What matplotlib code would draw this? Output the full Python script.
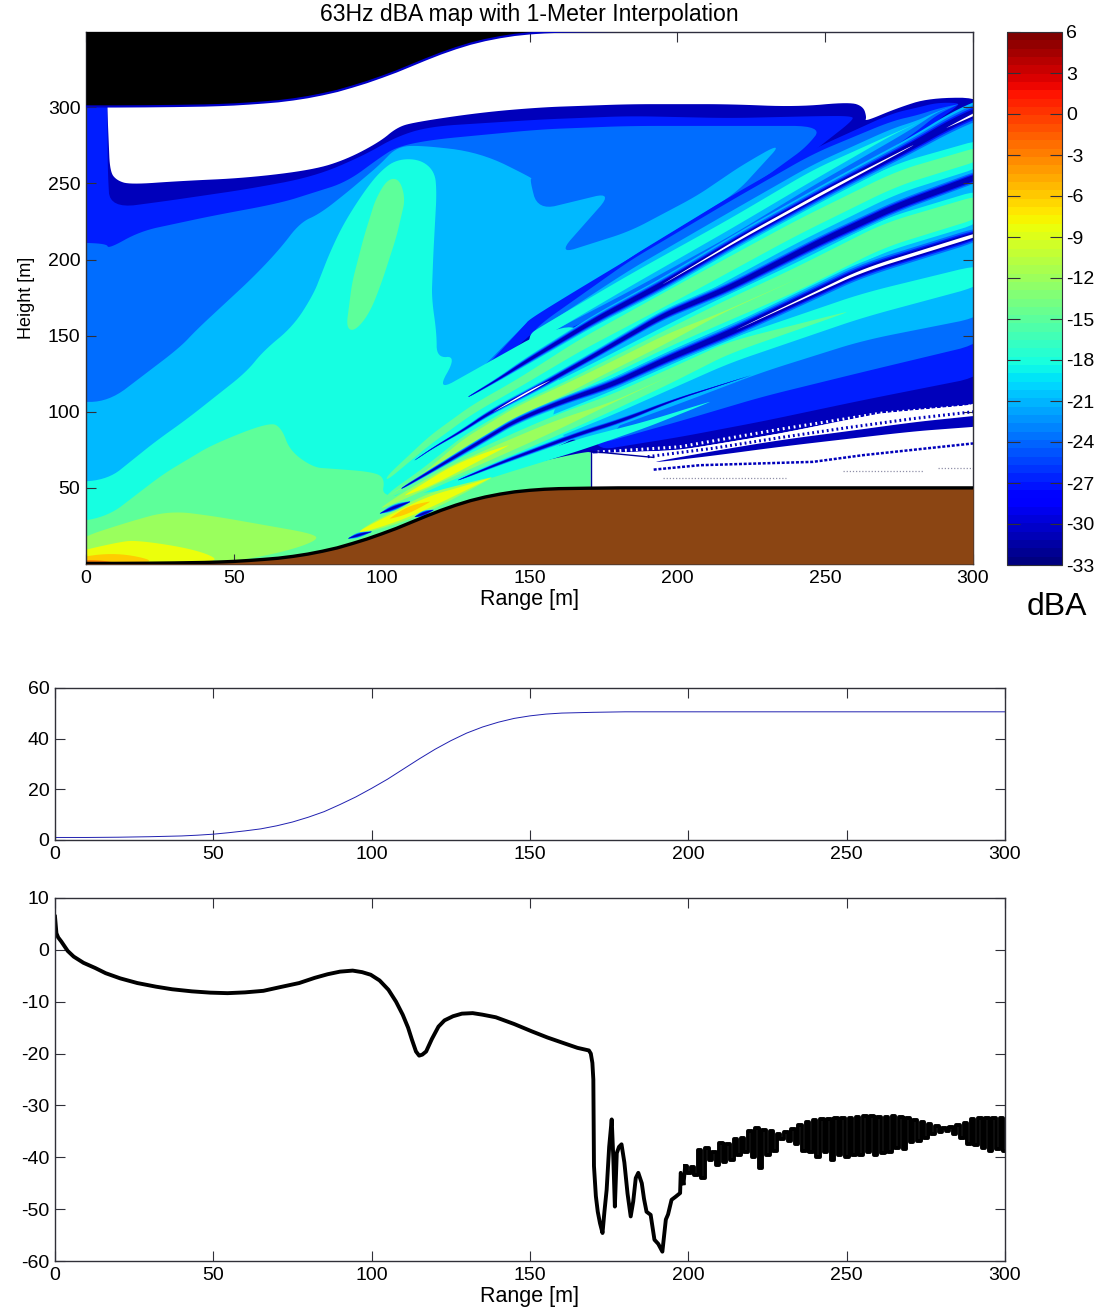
import numpy as np
import matplotlib
matplotlib.use("Agg")
import matplotlib.pyplot as plt
from matplotlib.colors import Normalize
from matplotlib.cm import ScalarMappable

plt.rcParams['font.family'] = ['Liberation Sans', 'DejaVu Sans']
plt.rcParams['axes.unicode_minus'] = False

# terrain profile, metres
terrain_x = [0, 10, 20, 30, 40, 45, 50, 55, 60, 65, 70, 75, 80, 85, 90, 95, 100, 105, 110, 115, 120, 125, 130,
             135, 140, 145, 150, 155, 160, 170, 180, 190, 300]
terrain_y = [1, 1, 1.1, 1.3, 1.6, 1.9, 2.3, 2.9, 3.6, 4.4, 5.6, 7.1, 9, 11.2, 14, 17, 20.4, 24, 28, 32, 35.8, 39.2,
             42.2, 44.6, 46.5, 48, 49, 49.7, 50.1, 50.4, 50.6, 50.6, 50.6]

# transmission loss along the ground, dBA
loss_x = [0, 0.45, 1, 2, 4, 5.9, 9, 12.7, 16, 20.6, 26, 31.9, 37, 43.2, 49, 54.5, 60, 65.8, 71, 77.1, 82, 86.1, 90,
          94, 97, 99.7, 102.5, 105.3, 107.7, 109.8, 111.5, 112.7, 114, 115, 116, 117.2, 119, 121.1, 123, 125.7,
          128.5, 131.9, 135, 139.2, 145, 150.5, 155.5, 160.7, 165, 168.6, 169.2, 169.7, 170, 170.2, 170.8, 171.4,
          172.1, 172.9, 173.5, 174.2, 175, 175.8, 176.3, 176.8, 177.4, 178.1, 178.9, 179.8, 180.8, 181.8, 182.6,
          183.4, 184.2, 185.3, 186, 186.8, 188.1, 189.3, 190.5, 191.8, 192.9, 193.6, 194.7, 196, 197.4, 197.6, 198.5]
loss_y = [6.4, 3.2, 2.4, 1.6, -0.2, -1.3, -2.5, -3.5, -4.5, -5.5, -6.4, -7.1, -7.6, -8, -8.25, -8.35, -8.2, -7.9,
          -7.2, -6.4, -5.4, -4.7, -4.2, -4, -4.3, -4.8, -5.9, -7.7, -10, -12.5, -15, -17.3, -19.6, -20.4, -20.2,
          -19.6, -17.2, -14.8, -13.6, -12.8, -12.3, -12.2, -12.5, -13, -14.3, -15.7, -16.9, -18, -18.9, -19.4, -20,
          -21.8, -25, -41.7, -47.5, -50.5, -52.7, -54.6, -50.5, -46.3, -38, -32.7, -40, -49.5, -39.2, -38, -37.5,
          -41, -47, -51.4, -48.5, -44, -43, -45, -48, -50.5, -51.1, -55.9, -56.7, -58.2, -52, -51, -48.2, -47.6,
          -46.9, -43, -45]
# the fast ripple after 199 m, read tooth by tooth
ripple_y = [-41.7, -43, -41.9, -43.5, -38.5, -44,
            -38.2, -40.5, -39, -41.5, -37.2, -41, -37.5, -40.5,
            -36.5, -39.5, -36.2, -39, -35, -40, -34.3, -42, -34.8, -39.5, -35, -38.8,
            -35.5, -36.5, -35.2, -36.8, -34.5, -37.5, -33.8, -38.8, -33.2, -39, -32.8, -40,
            -32.6, -39, -32.6, -40.5, -32.5, -39.5, -32.4, -40, -32.4, -39.5, -32.2, -39.6, -32.1, -39, -32, -39.5,
            -32.2, -39.2, -32.2, -39, -32.1, -38.2, -32.2, -38.4, -32.5, -37, -32.8, -36.9, -33.2, -36.2,
            -33.5, -35.6, -34, -35.2, -34.4, -35, -34.2, -35.6, -33.7, -36.3, -33.4, -37.5, -32.7, -37.6,
            -32.5, -38.2, -32.5, -38.8, -32.4, -38.4, -32.4, -38.8]

# upper edge of the sound field, left to right
edge_top = [(7.2, 302), (7.2, 299.4), (8.1, 257.8), (10.4, 252), (14.9, 249.3), (31.8, 251.6), (54.3, 253.6),
            (76.9, 259), (88.2, 265.9), (99.4, 277.4), (105.1, 286.7), (110.7, 290.1), (133.3, 296.6),
            (153.6, 300), (183.9, 302.1), (217.7, 302.1), (240.3, 300.3), (258.4, 303.5), (262.9, 300.5),
            (264, 293.6), (263.4, 290.6), (274.2, 299.4), (285.4, 306.3), (300, 306.3)]
# lower edge of the sound field behind the step, right to left
edge_low = [(300, 105.4), (268.5, 98.9), (234.6, 85.7), (200.8, 74.8), (171.5, 72.6)]

zone_30 = [(0, 0), (0, 303)] + edge_top + edge_low + [(170.7, 45)]
zone_27 = [(0, 0), (0, 303), (7.2, 303), (7.2, 299.4), (7.4, 255.5), (8.1, 233.6), (26.2, 238.2), (54.3, 246.2),
           (76.9, 254.3), (93.8, 268.2), (105.1, 280.9), (116.3, 287.4), (153.6, 292), (183.9, 294.3),
           (217.7, 292.9), (249.3, 294.3), (258.4, 294.3), (260, 292.4), (240.3, 262.4), (213.2, 228.9),
           (189.5, 202.4), (163.5, 172.3), (150, 150), (115, 90), (100, 40), (80, 0)]
zone_24 = [(0, 0), (0, 211.2), (7, 210.5), (7.6, 207), (18.3, 218.6), (43.1, 228.9), (65.6, 237), (88.2, 250.9),
           (99.4, 267), (105.1, 274), (116.3, 278.6), (153.6, 285.5), (183.9, 287.8), (249.3, 287.8),
           (243.7, 274), (229, 253.2), (213.2, 234.7), (189.5, 209.3), (163.5, 179.3), (150, 163),
           (148.5, 157.3), (116.4, 90.4), (105, 50), (90, 15)]
zone_21 = [(0, 0), (0, 106.5), (7.6, 106.5), (31.8, 142.3), (37.4, 153.9), (56.6, 188.5), (65.6, 207), (72.4, 224.3),
           (79.1, 230.1), (88.2, 244), (93.8, 253.2), (99.4, 262.4), (105.1, 274), (113, 275.1), (133.3, 270.5),
           (151.3, 253.2), (150, 253.2), (152.8, 232.4), (178.2, 244.4), (159.6, 203.5), (183.9, 218.5),
           (206.4, 241.6), (222.2, 262.4), (235.8, 277.4), (220, 243.9), (195.1, 213.9), (163.5, 177),
           (150, 160.8), (148.5, 157.3), (115, 92), (105, 50), (90, 15)]
zone_18 = [(0, 0), (0, 53.4), (7.6, 55.7), (23.9, 81.1), (34, 95), (54.3, 126.2), (60, 140), (70.1, 156.2), (76.9, 177),
           (82.5, 204.7), (87, 223.2), (93.8, 244), (99.4, 257.8), (105.1, 265.9), (113, 265.9), (118, 257.8),
           (118.6, 243.9), (117.5, 204.7), (116.9, 174.7), (118.6, 151.6), (118.6, 135.4), (125.4, 136.6),
           (118.6, 113.5), (153.6, 151.6), (168, 158), (168, 85), (130, 50), (105, 42), (90, 15)]
peak_15 = [(88, 155), (91, 153), (96, 165), (100, 185), (105, 215), (108, 240), (106, 253), (102, 253), (98, 240),
           (94, 215), (90, 185)]
zone_15 = [(0, 0), (0, 26.9), (7.6, 31.5), (26.2, 59.2), (43.1, 78.8), (62.2, 93.4), (66.2, 89.2), (69, 74.2),
           (76.9, 63.4), (82.5, 62.7), (97.2, 60.5), (101.1, 56.2), (100, 44), (112, 46), (125.9, 50), (141.1, 62),
           (167.1, 73), (172, 74), (172, 45), (130, 40), (100, 10), (60, 0)]
zone_12 = [(0, 0), (0, 15.3), (14.9, 28), (28.4, 35), (43.1, 31.5), (76.9, 19.9), (78.6, 15.8), (67.9, 8.4), (50, 1.5)]
zone_9 = [(0, 0), (0, 7.2), (10.4, 14.1), (17.1, 15.8), (37.4, 9.5), (46.4, 1.5)]
zone_6 = [(0, 0), (0, 3.8), (10.4, 7.7), (25, 1.5)]
zone_3 = [(0, 0), (0, 2.6), (4.7, 2.6), (11.5, 0.3)]
step_21 = [(158, 85), (173, 78), (182, 92), (180, 120), (158, 106)]

# fan of lobes behind the hill: centre lines and half heights
up_x = [150, 153.6, 183.9, 217.7, 245.9, 272.5, 281.5, 287.7, 295]
up_y = [147, 151.6, 186.2, 223.2, 255.5, 282, 290, 297, 302]
up_27 = [3, 7, 15, 18, 17, 14, 10, 6, 1]
up_24 = [2, 6, 13, 15, 14, 9, 5, 2, 0.1]
up_21 = [1, 3, 7, 8, 7, 4, 1.5, 0.2, 0]
up_18 = [4, 4, 4, 3.5, 3.5, 0.3, 0, 0, 0]

ac_x = [101.7, 116.3, 131, 145.6, 166.9, 206.4, 240.3, 274.2, 300]
ac_y = [56.2, 81.3, 102, 118, 143.5, 185, 220.8, 253.2, 271.2]
ac_18 = [3, 7, 8, 9, 10, 10, 10, 10, 9]
ac_15 = [1.5, 3, 3, 3, 4, 5, 5, 5, 4.5]

cb_x = [101.7, 112.9, 127.6, 145.6, 161.4, 172.6, 197.4, 214.3, 240.3, 270, 300]
cb_y = [44.1, 57.3, 79.1, 99.9, 114.1, 125, 149, 164.3, 187, 216, 236.5]
cb_18 = [3, 5, 6, 7, 8, 8, 9, 10, 11, 11, 11]
cb_15 = [2, 4, 5, 5, 5, 5.5, 6, 7, 8, 8, 7.5]
cb_12 = [0, 0.5, 3, 3.5, 3.5, 3, 3, 0.4, 0, 0, 0]

bd_x = [100, 107.9, 122, 142.3, 159.2, 177.2, 197, 217.7, 257.2]
bd_y = [37, 45.2, 59.5, 77, 91.2, 105.4, 123, 142.3, 165.4]
bd_15 = [1, 4, 6, 7, 7, 5.5, 5, 4, 0.3]
bd_12 = [0.5, 2.5, 4, 4, 3.5, 0.5, 0, 0, 0]
bd18_x = [145, 177, 217.7, 262.9, 300]
bd18_y = [80, 105, 140, 170, 191]
bd_18 = [8, 8, 8, 8, 7]
core9_x = [107.9, 115, 122, 132, 143]
core9_y = [45.2, 52, 59.5, 69, 78]
core_9 = [0.4, 2, 3, 2.2, 0.2]

under_x = [125.9, 141, 167, 190, 211]
under_y = [50, 62, 78.5, 92, 106.5]
under_18 = [0.5, 3, 4, 2, 0.2]

low_x = [92.6, 105, 116.3, 126.5, 137.2]
low_y = [21.2, 31, 40.9, 48.5, 56.8]
low_12 = [1.5, 5, 6, 3.5, 0.4]
low_9 = [1, 3.5, 4, 2, 0]
orange_x = [102.8, 109, 116.3]
orange_y = [29.9, 35.5, 40.9]
orange_6 = [0.3, 2.6, 0.3]

# lower limits of the quiet fan under ray B
fan_27 = [(171.4, 74.2), (200.8, 83.4), (229, 93.8), (262.9, 107.7), (300, 123.9)]
fan_24 = [(171.4, 77.7), (200.8, 93.8), (229, 110), (262.9, 126.2), (300, 145.8)]
fan_21 = [(171.4, 84.6), (200.8, 105.4), (229, 126.2), (262.9, 146.9), (300, 163.1)]

# nulls: centre line and half height of the darkest band
ray_a_x = [129.3, 138.9, 147.9, 172.6, 195.1, 223.4, 251.6, 279.8, 293.3, 300]
ray_a_y = [109.8, 120.7, 131.9, 160.8, 183.9, 216.2, 246.3, 275.1, 290.1, 299.8]
ray_a_h = [0.2, 0.5, 1, 1.5, 1.8, 2, 2.2, 2.5, 3, 3]
ray_c_x = [111.2, 117.5, 127.6, 136.6, 153.6, 172.6, 195.1, 217.7, 248.2, 274.2, 300]
ray_c_y = [68.2, 76.5, 87.9, 99.6, 116.9, 137.7, 163.1, 181.6, 211.6, 235, 257]
ray_c_h = [0.1, 0.2, 0.5, 0.8, 1, 1.2, 1.5, 1.7, 2, 2, 2]
ray_b_x = [106.7, 116.3, 127.6, 145.6, 161.4, 177.2, 197.4, 220, 262.9, 300]
ray_b_y = [49.6, 60.6, 73.7, 94.5, 107, 117.4, 135.4, 153.9, 193.1, 218.5]
ray_b_h = [0.3, 0.6, 0.9, 1, 1.2, 1.5, 1.7, 2, 2.5, 2.5]
ray_d_x = [125.9, 141.1, 167.1, 181.7, 198.6, 225]
ray_d_y = [55.1, 67.1, 85.7, 94.5, 107.6, 124]
ray_d_h = [0.2, 0.6, 0.9, 0.9, 0.4, 0]
ray_e_x = [99.4, 104, 109.6]
ray_e_y = [33.2, 37, 40.9]
ray_e_h = [0.1, 1, 0.2]
ray_f_x = [111.2, 114, 117.5]
ray_f_y = [31, 33, 35.5]
ray_f_h = [0.1, 0.9, 0.1]
ray_g_x = [88.7, 92, 96.6]
ray_g_y = [16.8, 19, 21.2]
ray_g_h = [0.1, 0.8, 0.1]

slit_a_x = [195.1, 223.4, 251.6, 279.8]
slit_a_y = [183.9, 216.2, 246.3, 275.1]
slit_a_h = [0.1, 0.9, 1.1, 0.2]
slit_a2_x = [291, 300]
slit_a2_y = [286.5, 299.8]
slit_a2_h = [0.1, 1.3]
slit_b_x = [220, 262.9, 300]
slit_b_y = [153.9, 193.1, 218.5]
slit_b_h = [0.05, 1.1, 1.3]
slit_c_x = [137.7, 145, 152, 157]
slit_c_y = [99.9, 108, 115.5, 120.5]
slit_c_h = [0.05, 0.6, 0.6, 0.05]

# dark streaks in the shadow zone
shadow_x = [192.9, 212, 234.6, 257.2, 279.7, 300]
shadow_y = [67.1, 72.6, 79.2, 84.6, 90.1, 94.5]
shadow_h = [0.3, 1.5, 2.2, 2.5, 3, 3.7]
dash1_x = [192, 207.6, 245.9, 262.8, 300]
dash1_y = [62, 64.9, 67.1, 71.5, 79.2]
dash2_x = [195.2, 236.9]
dash2_y = [56.2, 56.2]
dash3_x = [256, 283]
dash3_y = [61.2, 61.2]
dash4_x = [288, 300]
dash4_y = [63, 63]
speck_x = [173, 200.8, 234.6, 268.5, 300]
speck_y = [73.5, 77, 88.5, 99, 104]
speck2_x = [190, 212, 234.6, 257.2, 279.7, 300]
speck2_y = [70.5, 76, 83, 89.5, 95.5, 100]

level_ticks = [6, 3, 0, -3, -6, -9, -12, -15, -18, -21, -24, -27, -30, -33]
range_ticks = [0, 50, 100, 150, 200, 250, 300]

W, H = 1098, 1309
cmap = plt.get_cmap('jet', 64)
jet = plt.get_cmap('jet')
norm = Normalize(-33, 6)
FRAME = '#303038'
FS = 14
# the filled bands sit a little off the tick values
band_shift = {-9: 0.7, -18: -0.3, -30: -1}


def box(px_left, px_top, px_right, px_bottom):
    return [px_left / W, 1 - px_bottom / H, (px_right - px_left) / W, (px_bottom - px_top) / H]


def col(level):
    return jet(norm(level + band_shift.get(level, 0)))


def soften(xs, ys, rounds=3, longest=25.0):
    # corner cutting so the hand read outlines do not look like polygons
    xs = np.array(xs, dtype=float)
    ys = np.array(ys, dtype=float)
    xs[xs <= 0] = -5
    xs[xs >= 300] = 305
    # split long edges first, otherwise a long straight side gets eaten
    nx, ny = [], []
    for i in range(len(xs)):
        j = (i + 1) % len(xs)
        parts = int(np.hypot(xs[j] - xs[i], ys[j] - ys[i]) // longest) + 1
        for k in range(parts):
            nx.append(xs[i] + (xs[j] - xs[i]) * k / parts)
            ny.append(ys[i] + (ys[j] - ys[i]) * k / parts)
    xs, ys = np.array(nx), np.array(ny)
    for _ in range(rounds):
        nx, ny = np.roll(xs, -1), np.roll(ys, -1)
        xs = np.ravel(np.column_stack([0.75 * xs + 0.25 * nx, 0.25 * xs + 0.75 * nx]))
        ys = np.ravel(np.column_stack([0.75 * ys + 0.25 * ny, 0.25 * ys + 0.75 * ny]))
    return xs, ys


def zone(ax, level, pts):
    pts = np.array(pts)
    sx, sy = soften(pts[:, 0], pts[:, 1])
    ax.fill(sx, sy, color=col(level), lw=0)


def ribbon(ax, level, xs, ys, half, scale=1.0, color=None):
    xs, ys, half = np.array(xs), np.array(ys), np.array(half) * scale
    sx, sy = soften(np.r_[xs, xs[::-1]], np.r_[ys + half, (ys - half)[::-1]])
    ax.fill(sx, sy, color=col(level) if color is None else color, lw=0)


def ray(ax, xs, ys, half):
    for lev, k in [(-21, 2.5), (-24, 1.9), (-27, 1.4), (-30, 1.0)]:
        ribbon(ax, lev, xs, ys, half, k)


def style(ax):
    ax.tick_params(direction='in', length=7, width=0.8, top=True, right=True, labelsize=FS,
                   color=FRAME, pad=4)
    for s in ax.spines.values():
        s.set_color(FRAME)
        s.set_linewidth(1.0)
    ax.set_xlim(0, 300)
    ax.set_xticks(range_ticks)


fig = plt.figure(figsize=(W / 100, H / 100), dpi=100)

# top map
ax = fig.add_axes(box(86, 32, 973, 564))
zone(ax, -30, zone_30)
zone(ax, -27, zone_27)
zone(ax, -24, zone_24)
zone(ax, -21, zone_21)
ribbon(ax, -27, up_x, up_y, up_27)
ribbon(ax, -24, up_x, up_y, up_24)
ribbon(ax, -21, up_x, up_y, up_21)
zone(ax, -18, zone_18)
ribbon(ax, -18, up_x, up_y, up_18)
zone(ax, -15, peak_15)

# base of the fan between ray A and ray B
fan_top = [(x, y) for x, y in zip(ray_a_x, ray_a_y) if x > 160]
fan_mid = [(x, y) for x, y in zip(ray_b_x, ray_b_y) if x > 160]
fan_bot = [(x, y) for x, y in zip(ray_b_x, ray_b_y) if x > 175]
zone(ax, -21, [(160, 147)] + fan_top + fan_mid[::-1] + [(160, 104)])

# fan under ray B
for lev, low in [(-27, fan_27), (-24, fan_24), (-21, fan_21)]:
    zone(ax, lev, low + fan_bot[::-1])
zone(ax, -21, step_21)

ribbon(ax, -18, ac_x, ac_y, ac_18)
ribbon(ax, -18, cb_x, cb_y, cb_18)
ribbon(ax, -18, bd18_x, bd18_y, bd_18)
zone(ax, -15, zone_15)
ribbon(ax, -18, under_x, under_y, under_18)
ribbon(ax, -15, ac_x, ac_y, ac_15)
ribbon(ax, -15, cb_x, cb_y, cb_15)
ribbon(ax, -15, bd_x, bd_y, bd_15)
ribbon(ax, -12, cb_x, cb_y, cb_12)
ribbon(ax, -12, bd_x, bd_y, bd_12)
ribbon(ax, -9, core9_x, core9_y, core_9)
ribbon(ax, -12, low_x, low_y, low_12)
ribbon(ax, -9, low_x, low_y, low_9)
ribbon(ax, -6, orange_x, orange_y, orange_6)
for lev, pts in [(-12, zone_12), (-9, zone_9), (-6, zone_6), (-3, zone_3)]:
    zone(ax, lev, pts)

for xs, ys, hs in [(ray_a_x, ray_a_y, ray_a_h), (ray_c_x, ray_c_y, ray_c_h), (ray_b_x, ray_b_y, ray_b_h),
                   (ray_d_x, ray_d_y, ray_d_h), (ray_e_x, ray_e_y, ray_e_h), (ray_f_x, ray_f_y, ray_f_h),
                   (ray_g_x, ray_g_y, ray_g_h)]:
    ray(ax, xs, ys, hs)
for xs, ys, hs in [(slit_a_x, slit_a_y, slit_a_h), (slit_a2_x, slit_a2_y, slit_a2_h),
                   (slit_b_x, slit_b_y, slit_b_h), (slit_c_x, slit_c_y, slit_c_h)]:
    ribbon(ax, 0, xs, ys, hs, color='white')

# shadow zone behind the step
shade = np.array([(305, 105.4)] + edge_low[1:] + [(170.7, 74), (170.7, 45), (305, 45)])
ax.fill(shade[:, 0], shade[:, 1], color='white', lw=0)
ribbon(ax, -30, shadow_x, shadow_y, shadow_h)
ax.plot(speck_x, speck_y, color='white', lw=2.2, ls=(0, (0.6, 1.2)))
ax.plot(speck2_x, speck2_y, color=col(-30), lw=2.2, ls=(0, (0.6, 1.0)))
ax.plot(dash1_x, dash1_y, color=col(-30), lw=1.8, ls=(0, (1.2, 0.7)))
for xs, ys in [(dash2_x, dash2_y), (dash3_x, dash3_y), (dash4_x, dash4_y)]:
    ax.plot(xs, ys, color='#9090a8', lw=0.9, ls=(0, (1, 1.5)))
ax.plot([170.7, 170.7], [50, 74], color=col(-32), lw=1.0)
ax.plot([170.7, 192], [74, 70], color=col(-32), lw=1.0)

# hill and ceiling come last
tx, ty = np.array(terrain_x), np.array(terrain_y)
ax.fill_between(tx, 0, ty - 0.6, color='#8B4513', lw=0, zorder=3)
ax.plot(tx, ty - 0.6, color='black', lw=2.4, zorder=3)
ax.fill_between(tx, ty + 300, 360, color='black', lw=0, zorder=3)
ax.plot(tx, ty + 299.6, color='#0000C8', lw=1.6, zorder=3)

style(ax)
ax.set_ylim(0, 349.5)
ax.set_yticks([50, 100, 150, 200, 250, 300])
ax.set_xlabel('Range [m]', fontsize=15.5, labelpad=2)
ax.set_ylabel('Height [m]', fontsize=13, labelpad=9)
ax.set_title('63Hz dBA map with 1-Meter Interpolation', fontsize=16.6, pad=8)

# colour bar
cax = fig.add_axes(box(1007, 32, 1062, 565))
cb = fig.colorbar(ScalarMappable(norm=norm, cmap=cmap), cax=cax, ticks=level_ticks)
cb.outline.set_edgecolor(FRAME)
cax.tick_params(direction='in', length=9, width=0.8, left=True, right=True, labelsize=FS, color=FRAME, pad=3)
cax.set_yticklabels([str(v) for v in level_ticks])
fig.text(1057 / W, 1 - 607 / H, 'dBA', fontsize=23, ha='center', va='center')

# terrain line
ax2 = fig.add_axes(box(55, 688, 1005, 840))
ax2.plot(terrain_x, terrain_y, color='#2020b0', lw=0.7)
style(ax2)
ax2.set_ylim(0, 60)
ax2.set_yticks([0, 20, 40, 60])

# level along the ground
ax3 = fig.add_axes(box(55, 898, 1005, 1261))
ripple_x = np.linspace(199, 300, len(ripple_y))
ax3.plot(loss_x, loss_y, color='black', lw=2.8, solid_joinstyle='round')
ax3.plot(ripple_x, ripple_y, color='black', lw=2.8, drawstyle='steps-mid')
ax3.plot([198.5, 199], [-45, -41.7], color='black', lw=2.8)
style(ax3)
ax3.set_ylim(-60, 10)
ax3.set_yticks([-60, -50, -40, -30, -20, -10, 0, 10])
ax3.set_xlabel('Range [m]', fontsize=15.5, labelpad=2)

fig.savefig('out.png', dpi=100)
